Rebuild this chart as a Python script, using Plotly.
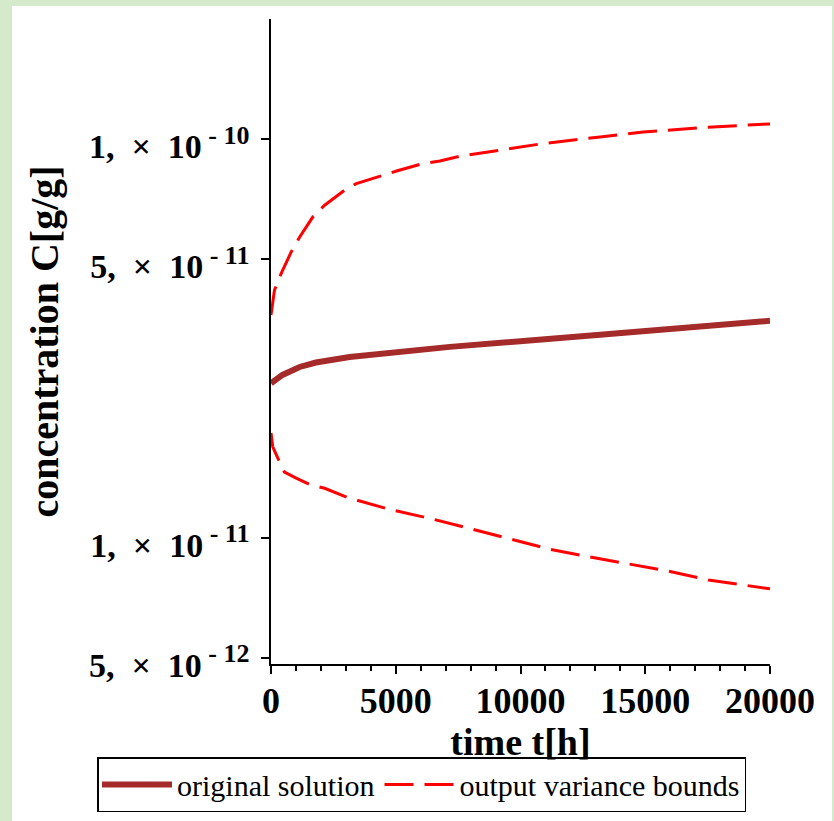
import math
import plotly.graph_objects as go

# ---------------- data ----------------
time_original = [0, 460, 1150, 1800, 3150, 4480, 5830, 7170, 13190, 15720, 18290, 20000]
conc_original = [2.44e-11, 2.56e-11, 2.68e-11, 2.75e-11, 2.84e-11, 2.90e-11, 2.95e-11,
                 3.01e-11, 3.23e-11, 3.33e-11, 3.43e-11, 3.50e-11]

time_upper = [0, 140, 410, 810, 1150, 1680, 2150, 2950, 3420, 4430, 5030, 6100, 6770,
              7570, 9180, 10900, 13190, 14920, 17490, 20000]
conc_upper = [3.62e-11, 4.18e-11, 4.60e-11, 5.21e-11, 5.68e-11, 6.38e-11, 6.82e-11,
              7.44e-11, 7.73e-11, 8.11e-11, 8.31e-11, 8.68e-11, 8.81e-11, 9.05e-11,
              9.37e-11, 9.74e-11, 1.012e-10, 1.041e-10, 1.070e-10, 1.091e-10]

time_lower = [0, 70, 340, 540, 1010, 1550, 2150, 3080, 4690, 6300, 7570, 9510, 11120,
              12720, 14280, 15880, 17530, 20000]
conc_lower = [1.83e-11, 1.69e-11, 1.55e-11, 1.46e-11, 1.41e-11, 1.36e-11, 1.33e-11,
              1.26e-11, 1.18e-11, 1.12e-11, 1.07e-11, 9.97e-12, 9.37e-12, 8.96e-12,
              8.59e-12, 8.25e-12, 7.83e-12, 7.44e-12]

y_tick_values = [5e-12, 1e-11, 5e-11, 1e-10]
y_tick_mantissa = ["5", "1", "5", "1"]
y_tick_exponent = ["12", "11", "11", "10"]
x_tick_values = [0, 5000, 10000, 15000, 20000]
x_tick_labels = ["0", "5000", "10000", "15000", "20000"]

series_names = ["original solution", "output variance bounds"]
x_title = "time t[h]"
y_title = "concentration C[g/g]"

# ---------------- layout helpers ----------------
W, H = 834, 821
L, R, T, B = 271, 64, 19, 157
PW, PH = W - L - R, H - T - B


def px_x(px):
    return (px - L) / PW


def px_y(py):
    return (H - B - py) / PH


NB = "\u00a0"
y_tick_text = [
    f"{m},{NB}{NB}×{NB}{NB}10<sup><span style='font-size:26px'>{NB}-{NB}{e}</span></sup>"
    for m, e in zip(y_tick_mantissa, y_tick_exponent)
]

SERIF = "Liberation Serif"
BROWN = "#A52A2A"
RED = "#FF0000"

fig = go.Figure()

fig.add_trace(go.Scatter(
    x=time_original, y=conc_original, mode="lines", name=series_names[0],
    line=dict(color=BROWN, width=6),
))
fig.add_trace(go.Scatter(
    x=time_upper, y=conc_upper, mode="lines", name=series_names[1],
    legendgroup="bounds",
    line=dict(color=RED, width=3, dash="29px,11px"),
))
fig.add_trace(go.Scatter(
    x=time_lower, y=conc_lower, mode="lines", name=series_names[1],
    legendgroup="bounds", showlegend=False,
    line=dict(color=RED, width=3, dash="29px,11px"),
))

fig.update_layout(
    width=W, height=H,
    margin=dict(l=L, r=R, t=T, b=B, autoexpand=False),
    paper_bgcolor="#d5e9cc",
    plot_bgcolor="white",
    showlegend=True,
    legend=dict(
        orientation="h",
        x=px_x(97), y=px_y(757), xref="paper", yref="paper",
        xanchor="left", yanchor="top",
        font=dict(family=SERIF, size=30, color="black"),
        bgcolor="white", bordercolor="black", borderwidth=1.5,
        itemwidth=70,
    ),
    shapes=[dict(
        type="rect", xref="paper", yref="paper", layer="below",
        x0=px_x(12), x1=px_x(832), y0=px_y(821), y1=px_y(6),
        fillcolor="white", line=dict(width=0),
    )],
)

fig.update_xaxes(
    range=[0, 20000],
    tickvals=x_tick_values, ticktext=x_tick_labels,
    ticks="outside", ticklen=8, tickwidth=1.5, tickcolor="black",
    minor=dict(dtick=1000, ticks="outside", ticklen=5, tickwidth=1.5, tickcolor="black"),
    showline=True, linecolor="black", linewidth=1.5,
    showgrid=False, zeroline=False, automargin=False,
    tickfont=dict(family=SERIF, size=36, color="black", weight="bold"),
    ticklabelstandoff=-4,
    title=dict(text=x_title, font=dict(family=SERIF, size=38, color="black", weight="bold"),
               standoff=0),
)

fig.update_yaxes(
    type="log",
    range=[math.log10(4.82e-12), math.log10(2.0e-10)],
    tickvals=y_tick_values, ticktext=y_tick_text,
    ticks="outside", ticklen=8, tickwidth=1.5, tickcolor="black",
    showline=True, linecolor="black", linewidth=1.5,
    showgrid=False, zeroline=False, automargin=False,
    tickfont=dict(family=SERIF, size=34, color="black", weight="bold"),
    ticklabelstandoff=5, ticklabelshift=7,
    title=dict(text=y_title, font=dict(family=SERIF, size=40, color="black", weight="bold"),
               standoff=18),
)

fig.write_html("out.html")
